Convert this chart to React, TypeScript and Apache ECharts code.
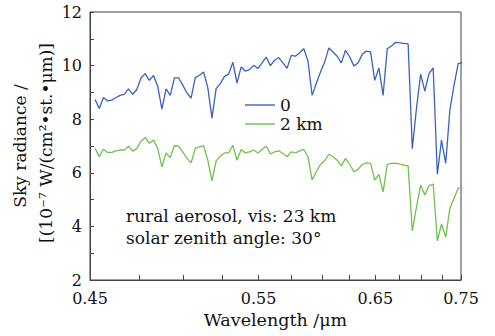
import React, { useEffect, useRef } from "react";
import * as echarts from "echarts";

// wavenumber of each sample, cm^-1 (uniform spacing)
const WAVENUMBERS = [
  22100, 22000, 21900, 21800, 21700, 21600, 21500, 21400, 21300, 21200,
  21100, 21000, 20900, 20800, 20700, 20600, 20500, 20400, 20300, 20200,
  20100, 20000, 19900, 19800, 19700, 19600, 19500, 19400, 19300, 19200,
  19100, 19000, 18900, 18800, 18700, 18600, 18500, 18400, 18300, 18200,
  18100, 18000, 17900, 17800, 17700, 17600, 17500, 17400, 17300, 17200,
  17100, 17000, 16900, 16800, 16700, 16600, 16500, 16400, 16300, 16200,
  16100, 16000, 15900, 15800, 15700, 15600, 15500, 15400, 15300, 15200,
  15100, 15000, 14900, 14800, 14700, 14600, 14500, 14400, 14300, 14200,
  14100, 14000, 13900, 13800, 13700, 13600, 13500, 13400, 13300,
];

// altitude 0
const RADIANCE_0 = [
  8.73, 8.4, 8.81, 8.68, 8.71, 8.81, 8.89, 8.93, 9.13, 8.93,
  9.11, 9.54, 9.7, 9.45, 9.63, 9.23, 8.38, 9.13, 8.89, 9.54,
  9.54, 9.27, 8.98, 8.79, 9.55, 9.64, 9.76, 9.18, 8.04, 9.14,
  9.33, 9.6, 9.68, 10.13, 9.35, 9.95, 9.79, 9.85, 10.01, 9.89,
  10.1, 10.32, 10.0, 10.2, 10.3, 10.1, 9.9, 10.38, 10.35, 10.48,
  10.63, 10.17, 8.89, 9.33, 9.76, 10.13, 10.66, 10.51, 10.35, 10.1,
  10.57, 10.32, 9.99, 10.1, 10.42, 10.54, 10.51, 9.45, 9.91, 8.89,
  10.63, 10.73, 10.87, 10.85, 10.83, 10.81, 6.9, 8.41, 9.68, 9.05,
  9.7, 9.91, 5.95, 7.22, 6.35, 8.34, 9.27, 10.07, 10.11,
];

// altitude 2 km
const RADIANCE_2KM = [
  6.91, 6.6, 6.88, 6.76, 6.76, 6.82, 6.85, 6.85, 6.99, 6.81,
  6.91, 7.18, 7.32, 7.1, 7.22, 6.91, 6.22, 6.74, 6.57, 7.01,
  6.99, 6.78, 6.54, 6.37, 6.91, 6.97, 7.01, 6.47, 5.7, 6.44,
  6.62, 6.74, 6.74, 7.03, 6.47, 6.87, 6.74, 6.78, 6.85, 6.74,
  6.87, 6.99, 6.7, 6.78, 6.82, 6.72, 6.6, 6.78, 6.74, 6.82,
  6.87, 6.6, 5.73, 6.04, 6.31, 6.45, 6.69, 6.6, 6.47, 6.26,
  6.54, 6.31, 6.04, 6.13, 6.31, 6.37, 6.35, 5.73, 5.94, 5.29,
  6.31, 6.35, 6.36, 6.32, 6.29, 6.25, 3.83, 4.72, 5.54, 5.17,
  5.52, 5.58, 3.46, 4.09, 3.59, 4.67, 5.05, 5.43, 5.45,
];

const SERIES_NAMES = ["0", "2 km"];
const X_LABEL_WAVELENGTHS = [0.45, 0.55, 0.65, 0.75];
const X_TICK_WAVELENGTHS = [
  0.45, 0.475, 0.5, 0.525, 0.55, 0.575, 0.6, 0.625, 0.65, 0.675, 0.7, 0.725, 0.75,
];
const Y_MIN = 2;
const Y_MAX = 12;

const FONT = '"DejaVu Serif", serif';
const TEXT = "#111";
const BLUE = "#3b61c2";
const GREEN = "#6fc24e";

export default function App() {
  const ref = useRef<HTMLDivElement>(null);

  useEffect(() => {
    if (!ref.current) return;
    const chart = echarts.init(ref.current, undefined, { renderer: "svg" });
    const toX = (w: number) => w / 10000; // cm^-1 -> um^-1
    const inv = (l: number) => 1 / l;
    chart.setOption({
      animation: false,
      backgroundColor: "#fff",
      grid: {
        left: 90,
        right: 34,
        top: 12,
        bottom: 56,
        show: true,
        borderColor: "#444",
        borderWidth: 1,
        backgroundColor: "transparent",
      },
      legend: {
        left: 240,
        top: 91,
        orient: "vertical",
        icon: "rect",
        itemWidth: 30,
        itemHeight: 1.4,
        itemGap: 1,
        data: SERIES_NAMES,
        textStyle: {
          fontFamily: FONT,
          fontSize: 17,
          color: TEXT,
          lineHeight: 18,
        },
      },
      xAxis: {
        type: "value",
        inverse: true,
        min: inv(0.75),
        max: inv(0.45),
        axisLine: { show: true, lineStyle: { color: "#444", width: 1 } },
        axisTick: {
          show: true,
          inside: true,
          length: 5,
          lineStyle: { color: "#444" },
          customValues: X_TICK_WAVELENGTHS.map(inv),
        },
        axisLabel: {
          customValues: X_LABEL_WAVELENGTHS.map(inv),
          formatter: (v: number) => (1 / v).toFixed(2),
          fontFamily: FONT,
          fontSize: 16,
          color: TEXT,
          margin: 10,
        },
        splitLine: { show: false },
        name: "Wavelength /μm",
        nameLocation: "middle",
        nameGap: 31,
        nameTextStyle: { fontFamily: FONT, fontSize: 17.5, color: TEXT },
      },
      yAxis: {
        type: "value",
        min: Y_MIN,
        max: Y_MAX,
        interval: 1,
        axisLine: { show: true, lineStyle: { color: "#444", width: 1 } },
        axisTick: { show: true, inside: true, length: 4, lineStyle: { color: "#444" } },
        axisLabel: {
          formatter: (v: number) => (v % 2 === 0 ? String(v) : ""),
          fontFamily: FONT,
          fontSize: 16,
          color: TEXT,
          margin: 8,
        },
        splitLine: { show: false },
      },
      series: [
        {
          name: SERIES_NAMES[0],
          type: "line",
          symbol: "none",
          data: WAVENUMBERS.map((w, i) => [toX(w), RADIANCE_0[i]]),
          lineStyle: { color: BLUE, width: 1.3 },
          itemStyle: { color: BLUE },
        },
        {
          name: SERIES_NAMES[1],
          type: "line",
          symbol: "none",
          data: WAVENUMBERS.map((w, i) => [toX(w), RADIANCE_2KM[i]]),
          lineStyle: { color: GREEN, width: 1.3 },
          itemStyle: { color: GREEN },
        },
      ],
      graphic: [
        {
          type: "text",
          x: 20,
          y: 146,
          rotation: Math.PI / 2,
          style: {
            text: "Sky radiance /",
            fontFamily: FONT,
            fontSize: 17,
            fill: TEXT,
            align: "center",
            verticalAlign: "middle",
          },
        },
        {
          type: "text",
          x: 46,
          y: 143,
          rotation: Math.PI / 2,
          style: {
            text: "[(10⁻⁷ W/(cm²•st.•μm)]",
            fontFamily: FONT,
            fontSize: 17,
            fill: TEXT,
            align: "center",
            verticalAlign: "middle",
          },
        },
        {
          type: "text",
          x: 126,
          y: 216,
          style: {
            text: "rural aerosol, vis: 23 km",
            fontFamily: FONT,
            fontSize: 17,
            fill: TEXT,
            align: "left",
            verticalAlign: "middle",
          },
        },
        {
          type: "text",
          x: 126,
          y: 238,
          style: {
            text: "solar zenith angle: 30°",
            fontFamily: FONT,
            fontSize: 17,
            fill: TEXT,
            align: "left",
            verticalAlign: "middle",
          },
        },
      ],
    });
    return () => chart.dispose();
  }, []);

  return (
    <div
      ref={ref}
      style={{ position: "fixed", left: 0, top: 0, width: 495, height: 336 }}
    />
  );
}
